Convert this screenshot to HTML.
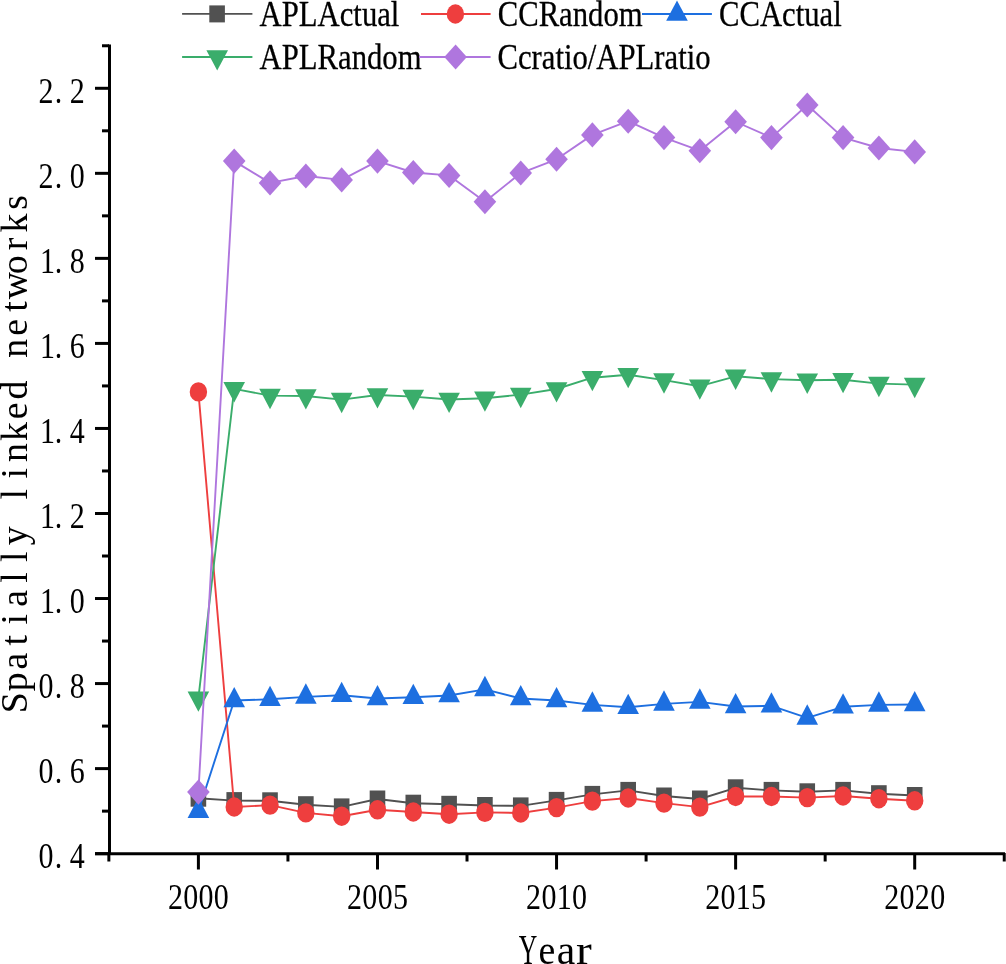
<!DOCTYPE html>
<html><head><meta charset="utf-8"><style>
html,body{margin:0;padding:0;background:#fff;}
body{width:1006px;height:964px;overflow:hidden;}
svg{display:block;}
text{fill:#000;}
svg{will-change:transform;}
</style></head><body>
<svg width="1006" height="964" viewBox="0 0 1006 964">
<rect width="1006" height="964" fill="#fff"/>
<g stroke="#000" stroke-width="3" fill="none">
<line x1="109.5" y1="44.5" x2="109.5" y2="855.1"/>
<line x1="95" y1="853.65" x2="1005" y2="853.65"/>
<line x1="95" y1="853.65" x2="109" y2="853.65"/>
<line x1="102" y1="811.13" x2="109" y2="811.13"/>
<line x1="95" y1="768.61" x2="109" y2="768.61"/>
<line x1="102" y1="726.09" x2="109" y2="726.09"/>
<line x1="95" y1="683.57" x2="109" y2="683.57"/>
<line x1="102" y1="641.05" x2="109" y2="641.05"/>
<line x1="95" y1="598.53" x2="109" y2="598.53"/>
<line x1="102" y1="556.01" x2="109" y2="556.01"/>
<line x1="95" y1="513.49" x2="109" y2="513.49"/>
<line x1="102" y1="470.97" x2="109" y2="470.97"/>
<line x1="95" y1="428.45" x2="109" y2="428.45"/>
<line x1="102" y1="385.93" x2="109" y2="385.93"/>
<line x1="95" y1="343.41" x2="109" y2="343.41"/>
<line x1="102" y1="300.89" x2="109" y2="300.89"/>
<line x1="95" y1="258.37" x2="109" y2="258.37"/>
<line x1="102" y1="215.85" x2="109" y2="215.85"/>
<line x1="95" y1="173.33" x2="109" y2="173.33"/>
<line x1="102" y1="130.81" x2="109" y2="130.81"/>
<line x1="95" y1="88.29" x2="109" y2="88.29"/>
<line x1="102" y1="45.77" x2="109" y2="45.77"/>
<line x1="108.86" y1="853" x2="108.86" y2="861.5"/>
<line x1="198.40" y1="853" x2="198.40" y2="869.5"/>
<line x1="287.94" y1="853" x2="287.94" y2="861.5"/>
<line x1="377.48" y1="853" x2="377.48" y2="869.5"/>
<line x1="467.01" y1="853" x2="467.01" y2="861.5"/>
<line x1="556.55" y1="853" x2="556.55" y2="869.5"/>
<line x1="646.09" y1="853" x2="646.09" y2="861.5"/>
<line x1="735.62" y1="853" x2="735.62" y2="869.5"/>
<line x1="825.16" y1="853" x2="825.16" y2="861.5"/>
<line x1="914.70" y1="853" x2="914.70" y2="869.5"/>
<line x1="1004.24" y1="853" x2="1004.24" y2="861.5"/>
</g>
<polyline points="198.40,798.20 234.22,800.60 270.03,800.80 305.85,804.70 341.66,806.90 377.48,799.00 413.29,803.20 449.11,804.30 484.92,805.50 520.74,805.90 556.55,800.40 592.37,794.40 628.18,790.40 664.00,796.00 699.81,799.00 735.62,787.80 771.44,790.40 807.25,791.80 843.07,790.40 878.88,793.70 914.70,795.50" fill="none" stroke="#515151" stroke-width="1.9" stroke-linejoin="round"/><rect x="190.60" y="789.70" width="15.6" height="17.0" fill="#515151"/><rect x="226.41" y="792.10" width="15.6" height="17.0" fill="#515151"/><rect x="262.23" y="792.30" width="15.6" height="17.0" fill="#515151"/><rect x="298.05" y="796.20" width="15.6" height="17.0" fill="#515151"/><rect x="333.86" y="798.40" width="15.6" height="17.0" fill="#515151"/><rect x="369.68" y="790.50" width="15.6" height="17.0" fill="#515151"/><rect x="405.49" y="794.70" width="15.6" height="17.0" fill="#515151"/><rect x="441.31" y="795.80" width="15.6" height="17.0" fill="#515151"/><rect x="477.12" y="797.00" width="15.6" height="17.0" fill="#515151"/><rect x="512.94" y="797.40" width="15.6" height="17.0" fill="#515151"/><rect x="548.75" y="791.90" width="15.6" height="17.0" fill="#515151"/><rect x="584.57" y="785.90" width="15.6" height="17.0" fill="#515151"/><rect x="620.38" y="781.90" width="15.6" height="17.0" fill="#515151"/><rect x="656.20" y="787.50" width="15.6" height="17.0" fill="#515151"/><rect x="692.01" y="790.50" width="15.6" height="17.0" fill="#515151"/><rect x="727.82" y="779.30" width="15.6" height="17.0" fill="#515151"/><rect x="763.64" y="781.90" width="15.6" height="17.0" fill="#515151"/><rect x="799.46" y="783.30" width="15.6" height="17.0" fill="#515151"/><rect x="835.27" y="781.90" width="15.6" height="17.0" fill="#515151"/><rect x="871.08" y="785.20" width="15.6" height="17.0" fill="#515151"/><rect x="906.90" y="787.00" width="15.6" height="17.0" fill="#515151"/>
<polyline points="198.40,391.90 234.22,807.00 270.03,805.10 305.85,812.90 341.66,816.20 377.48,809.80 413.29,812.00 449.11,814.20 484.92,812.40 520.74,813.00 556.55,807.60 592.37,801.10 628.18,798.00 664.00,803.10 699.81,807.10 735.62,796.50 771.44,796.50 807.25,797.60 843.07,796.00 878.88,798.70 914.70,800.80" fill="none" stroke="#EE3E3E" stroke-width="1.9" stroke-linejoin="round"/><ellipse cx="198.40" cy="391.90" rx="8.7" ry="9.7" fill="#EE3E3E"/><ellipse cx="234.22" cy="807.00" rx="8.7" ry="9.7" fill="#EE3E3E"/><ellipse cx="270.03" cy="805.10" rx="8.7" ry="9.7" fill="#EE3E3E"/><ellipse cx="305.85" cy="812.90" rx="8.7" ry="9.7" fill="#EE3E3E"/><ellipse cx="341.66" cy="816.20" rx="8.7" ry="9.7" fill="#EE3E3E"/><ellipse cx="377.48" cy="809.80" rx="8.7" ry="9.7" fill="#EE3E3E"/><ellipse cx="413.29" cy="812.00" rx="8.7" ry="9.7" fill="#EE3E3E"/><ellipse cx="449.11" cy="814.20" rx="8.7" ry="9.7" fill="#EE3E3E"/><ellipse cx="484.92" cy="812.40" rx="8.7" ry="9.7" fill="#EE3E3E"/><ellipse cx="520.74" cy="813.00" rx="8.7" ry="9.7" fill="#EE3E3E"/><ellipse cx="556.55" cy="807.60" rx="8.7" ry="9.7" fill="#EE3E3E"/><ellipse cx="592.37" cy="801.10" rx="8.7" ry="9.7" fill="#EE3E3E"/><ellipse cx="628.18" cy="798.00" rx="8.7" ry="9.7" fill="#EE3E3E"/><ellipse cx="664.00" cy="803.10" rx="8.7" ry="9.7" fill="#EE3E3E"/><ellipse cx="699.81" cy="807.10" rx="8.7" ry="9.7" fill="#EE3E3E"/><ellipse cx="735.62" cy="796.50" rx="8.7" ry="9.7" fill="#EE3E3E"/><ellipse cx="771.44" cy="796.50" rx="8.7" ry="9.7" fill="#EE3E3E"/><ellipse cx="807.25" cy="797.60" rx="8.7" ry="9.7" fill="#EE3E3E"/><ellipse cx="843.07" cy="796.00" rx="8.7" ry="9.7" fill="#EE3E3E"/><ellipse cx="878.88" cy="798.70" rx="8.7" ry="9.7" fill="#EE3E3E"/><ellipse cx="914.70" cy="800.80" rx="8.7" ry="9.7" fill="#EE3E3E"/>
<polyline points="198.40,811.10 234.22,700.50 270.03,699.30 305.85,696.90 341.66,695.30 377.48,698.50 413.29,697.30 449.11,695.50 484.92,689.40 520.74,698.50 556.55,700.50 592.37,704.90 628.18,707.30 664.00,703.90 699.81,701.90 735.62,706.50 771.44,705.80 807.25,717.90 843.07,706.80 878.88,704.90 914.70,704.50" fill="none" stroke="#1D6FE0" stroke-width="1.9" stroke-linejoin="round"/><polygon points="198.40,797.50 209.20,817.90 187.60,817.90" fill="#1D6FE0"/><polygon points="234.22,686.90 245.02,707.30 223.41,707.30" fill="#1D6FE0"/><polygon points="270.03,685.70 280.83,706.10 259.23,706.10" fill="#1D6FE0"/><polygon points="305.85,683.30 316.65,703.70 295.05,703.70" fill="#1D6FE0"/><polygon points="341.66,681.70 352.46,702.10 330.86,702.10" fill="#1D6FE0"/><polygon points="377.48,684.90 388.28,705.30 366.68,705.30" fill="#1D6FE0"/><polygon points="413.29,683.70 424.09,704.10 402.49,704.10" fill="#1D6FE0"/><polygon points="449.11,681.90 459.91,702.30 438.31,702.30" fill="#1D6FE0"/><polygon points="484.92,675.80 495.72,696.20 474.12,696.20" fill="#1D6FE0"/><polygon points="520.74,684.90 531.53,705.30 509.94,705.30" fill="#1D6FE0"/><polygon points="556.55,686.90 567.35,707.30 545.75,707.30" fill="#1D6FE0"/><polygon points="592.37,691.30 603.16,711.70 581.57,711.70" fill="#1D6FE0"/><polygon points="628.18,693.70 638.98,714.10 617.38,714.10" fill="#1D6FE0"/><polygon points="664.00,690.30 674.79,710.70 653.20,710.70" fill="#1D6FE0"/><polygon points="699.81,688.30 710.61,708.70 689.01,708.70" fill="#1D6FE0"/><polygon points="735.62,692.90 746.42,713.30 724.82,713.30" fill="#1D6FE0"/><polygon points="771.44,692.20 782.24,712.60 760.64,712.60" fill="#1D6FE0"/><polygon points="807.25,704.30 818.05,724.70 796.46,724.70" fill="#1D6FE0"/><polygon points="843.07,693.20 853.87,713.60 832.27,713.60" fill="#1D6FE0"/><polygon points="878.88,691.30 889.68,711.70 868.08,711.70" fill="#1D6FE0"/><polygon points="914.70,690.90 925.50,711.30 903.90,711.30" fill="#1D6FE0"/>
<polyline points="198.40,698.20 234.22,388.90 270.03,395.60 305.85,396.00 341.66,399.60 377.48,395.00 413.29,396.60 449.11,399.50 484.92,398.20 520.74,394.60 556.55,389.00 592.37,377.70 628.18,374.70 664.00,380.10 699.81,386.20 735.62,376.30 771.44,379.10 807.25,380.30 843.07,379.70 878.88,383.60 914.70,384.60" fill="none" stroke="#3AAD6B" stroke-width="1.9" stroke-linejoin="round"/><polygon points="198.40,711.80 209.20,691.40 187.60,691.40" fill="#3AAD6B"/><polygon points="234.22,402.50 245.02,382.10 223.41,382.10" fill="#3AAD6B"/><polygon points="270.03,409.20 280.83,388.80 259.23,388.80" fill="#3AAD6B"/><polygon points="305.85,409.60 316.65,389.20 295.05,389.20" fill="#3AAD6B"/><polygon points="341.66,413.20 352.46,392.80 330.86,392.80" fill="#3AAD6B"/><polygon points="377.48,408.60 388.28,388.20 366.68,388.20" fill="#3AAD6B"/><polygon points="413.29,410.20 424.09,389.80 402.49,389.80" fill="#3AAD6B"/><polygon points="449.11,413.10 459.91,392.70 438.31,392.70" fill="#3AAD6B"/><polygon points="484.92,411.80 495.72,391.40 474.12,391.40" fill="#3AAD6B"/><polygon points="520.74,408.20 531.53,387.80 509.94,387.80" fill="#3AAD6B"/><polygon points="556.55,402.60 567.35,382.20 545.75,382.20" fill="#3AAD6B"/><polygon points="592.37,391.30 603.16,370.90 581.57,370.90" fill="#3AAD6B"/><polygon points="628.18,388.30 638.98,367.90 617.38,367.90" fill="#3AAD6B"/><polygon points="664.00,393.70 674.79,373.30 653.20,373.30" fill="#3AAD6B"/><polygon points="699.81,399.80 710.61,379.40 689.01,379.40" fill="#3AAD6B"/><polygon points="735.62,389.90 746.42,369.50 724.82,369.50" fill="#3AAD6B"/><polygon points="771.44,392.70 782.24,372.30 760.64,372.30" fill="#3AAD6B"/><polygon points="807.25,393.90 818.05,373.50 796.46,373.50" fill="#3AAD6B"/><polygon points="843.07,393.30 853.87,372.90 832.27,372.90" fill="#3AAD6B"/><polygon points="878.88,397.20 889.68,376.80 868.08,376.80" fill="#3AAD6B"/><polygon points="914.70,398.20 925.50,377.80 903.90,377.80" fill="#3AAD6B"/>
<polyline points="198.40,792.10 234.22,161.10 270.03,182.90 305.85,176.00 341.66,179.90 377.48,161.10 413.29,172.50 449.11,175.40 484.92,201.70 520.74,173.05 556.55,159.30 592.37,134.90 628.18,121.20 664.00,137.60 699.81,150.70 735.62,121.75 771.44,137.60 807.25,105.05 843.07,137.60 878.88,148.00 914.70,151.90" fill="none" stroke="#AF76DE" stroke-width="1.9" stroke-linejoin="round"/><polygon points="198.40,779.55 209.70,792.10 198.40,804.65 187.10,792.10" fill="#AF76DE"/><polygon points="234.22,148.55 245.52,161.10 234.22,173.65 222.91,161.10" fill="#AF76DE"/><polygon points="270.03,170.35 281.33,182.90 270.03,195.45 258.73,182.90" fill="#AF76DE"/><polygon points="305.85,163.45 317.15,176.00 305.85,188.55 294.55,176.00" fill="#AF76DE"/><polygon points="341.66,167.35 352.96,179.90 341.66,192.45 330.36,179.90" fill="#AF76DE"/><polygon points="377.48,148.55 388.78,161.10 377.48,173.65 366.18,161.10" fill="#AF76DE"/><polygon points="413.29,159.95 424.59,172.50 413.29,185.05 401.99,172.50" fill="#AF76DE"/><polygon points="449.11,162.85 460.41,175.40 449.11,187.95 437.81,175.40" fill="#AF76DE"/><polygon points="484.92,189.15 496.22,201.70 484.92,214.25 473.62,201.70" fill="#AF76DE"/><polygon points="520.74,160.50 532.03,173.05 520.74,185.60 509.44,173.05" fill="#AF76DE"/><polygon points="556.55,146.75 567.85,159.30 556.55,171.85 545.25,159.30" fill="#AF76DE"/><polygon points="592.37,122.35 603.66,134.90 592.37,147.45 581.07,134.90" fill="#AF76DE"/><polygon points="628.18,108.65 639.48,121.20 628.18,133.75 616.88,121.20" fill="#AF76DE"/><polygon points="664.00,125.05 675.29,137.60 664.00,150.15 652.70,137.60" fill="#AF76DE"/><polygon points="699.81,138.15 711.11,150.70 699.81,163.25 688.51,150.70" fill="#AF76DE"/><polygon points="735.62,109.20 746.92,121.75 735.62,134.30 724.32,121.75" fill="#AF76DE"/><polygon points="771.44,125.05 782.74,137.60 771.44,150.15 760.14,137.60" fill="#AF76DE"/><polygon points="807.25,92.50 818.55,105.05 807.25,117.60 795.96,105.05" fill="#AF76DE"/><polygon points="843.07,125.05 854.37,137.60 843.07,150.15 831.77,137.60" fill="#AF76DE"/><polygon points="878.88,135.45 890.18,148.00 878.88,160.55 867.58,148.00" fill="#AF76DE"/><polygon points="914.70,139.35 926.00,151.90 914.70,164.45 903.40,151.90" fill="#AF76DE"/>
<g style='font-family:"Liberation Serif",serif'><text transform="translate(46.00,868.35) scale(1,1.17)" text-anchor="middle" font-size="30">0</text><text transform="translate(58.40,868.35) scale(1,1.17)" text-anchor="middle" font-size="30">.</text><text transform="translate(77.30,868.35) scale(1,1.17)" text-anchor="middle" font-size="30">4</text></g>
<g style='font-family:"Liberation Serif",serif'><text transform="translate(46.00,783.31) scale(1,1.17)" text-anchor="middle" font-size="30">0</text><text transform="translate(58.40,783.31) scale(1,1.17)" text-anchor="middle" font-size="30">.</text><text transform="translate(77.30,783.31) scale(1,1.17)" text-anchor="middle" font-size="30">6</text></g>
<g style='font-family:"Liberation Serif",serif'><text transform="translate(46.00,698.27) scale(1,1.17)" text-anchor="middle" font-size="30">0</text><text transform="translate(58.40,698.27) scale(1,1.17)" text-anchor="middle" font-size="30">.</text><text transform="translate(77.30,698.27) scale(1,1.17)" text-anchor="middle" font-size="30">8</text></g>
<g style='font-family:"Liberation Serif",serif'><text transform="translate(47.50,613.23) scale(1,1.17)" text-anchor="middle" font-size="30">1</text><text transform="translate(58.40,613.23) scale(1,1.17)" text-anchor="middle" font-size="30">.</text><text transform="translate(77.30,613.23) scale(1,1.17)" text-anchor="middle" font-size="30">0</text></g>
<g style='font-family:"Liberation Serif",serif'><text transform="translate(47.50,528.19) scale(1,1.17)" text-anchor="middle" font-size="30">1</text><text transform="translate(58.40,528.19) scale(1,1.17)" text-anchor="middle" font-size="30">.</text><text transform="translate(77.30,528.19) scale(1,1.17)" text-anchor="middle" font-size="30">2</text></g>
<g style='font-family:"Liberation Serif",serif'><text transform="translate(47.50,443.15) scale(1,1.17)" text-anchor="middle" font-size="30">1</text><text transform="translate(58.40,443.15) scale(1,1.17)" text-anchor="middle" font-size="30">.</text><text transform="translate(77.30,443.15) scale(1,1.17)" text-anchor="middle" font-size="30">4</text></g>
<g style='font-family:"Liberation Serif",serif'><text transform="translate(47.50,358.11) scale(1,1.17)" text-anchor="middle" font-size="30">1</text><text transform="translate(58.40,358.11) scale(1,1.17)" text-anchor="middle" font-size="30">.</text><text transform="translate(77.30,358.11) scale(1,1.17)" text-anchor="middle" font-size="30">6</text></g>
<g style='font-family:"Liberation Serif",serif'><text transform="translate(47.50,273.07) scale(1,1.17)" text-anchor="middle" font-size="30">1</text><text transform="translate(58.40,273.07) scale(1,1.17)" text-anchor="middle" font-size="30">.</text><text transform="translate(77.30,273.07) scale(1,1.17)" text-anchor="middle" font-size="30">8</text></g>
<g style='font-family:"Liberation Serif",serif'><text transform="translate(46.00,188.03) scale(1,1.17)" text-anchor="middle" font-size="30">2</text><text transform="translate(58.40,188.03) scale(1,1.17)" text-anchor="middle" font-size="30">.</text><text transform="translate(77.30,188.03) scale(1,1.17)" text-anchor="middle" font-size="30">0</text></g>
<g style='font-family:"Liberation Serif",serif'><text transform="translate(46.00,102.99) scale(1,1.17)" text-anchor="middle" font-size="30">2</text><text transform="translate(58.40,102.99) scale(1,1.17)" text-anchor="middle" font-size="30">.</text><text transform="translate(77.30,102.99) scale(1,1.17)" text-anchor="middle" font-size="30">2</text></g>
<g style='font-family:"Liberation Serif",serif'><text transform="translate(175.45,909.30) scale(1,1.17)" text-anchor="middle" font-size="30">2</text><text transform="translate(190.75,909.30) scale(1,1.17)" text-anchor="middle" font-size="30">0</text><text transform="translate(206.05,909.30) scale(1,1.17)" text-anchor="middle" font-size="30">0</text><text transform="translate(221.35,909.30) scale(1,1.17)" text-anchor="middle" font-size="30">0</text></g>
<g style='font-family:"Liberation Serif",serif'><text transform="translate(354.53,909.30) scale(1,1.17)" text-anchor="middle" font-size="30">2</text><text transform="translate(369.83,909.30) scale(1,1.17)" text-anchor="middle" font-size="30">0</text><text transform="translate(385.12,909.30) scale(1,1.17)" text-anchor="middle" font-size="30">0</text><text transform="translate(400.43,909.30) scale(1,1.17)" text-anchor="middle" font-size="30">5</text></g>
<g style='font-family:"Liberation Serif",serif'><text transform="translate(533.60,909.30) scale(1,1.17)" text-anchor="middle" font-size="30">2</text><text transform="translate(548.90,909.30) scale(1,1.17)" text-anchor="middle" font-size="30">0</text><text transform="translate(564.20,909.30) scale(1,1.17)" text-anchor="middle" font-size="30">1</text><text transform="translate(579.50,909.30) scale(1,1.17)" text-anchor="middle" font-size="30">0</text></g>
<g style='font-family:"Liberation Serif",serif'><text transform="translate(712.67,909.30) scale(1,1.17)" text-anchor="middle" font-size="30">2</text><text transform="translate(727.97,909.30) scale(1,1.17)" text-anchor="middle" font-size="30">0</text><text transform="translate(743.27,909.30) scale(1,1.17)" text-anchor="middle" font-size="30">1</text><text transform="translate(758.57,909.30) scale(1,1.17)" text-anchor="middle" font-size="30">5</text></g>
<g style='font-family:"Liberation Serif",serif'><text transform="translate(891.75,909.30) scale(1,1.17)" text-anchor="middle" font-size="30">2</text><text transform="translate(907.05,909.30) scale(1,1.17)" text-anchor="middle" font-size="30">0</text><text transform="translate(922.35,909.30) scale(1,1.17)" text-anchor="middle" font-size="30">2</text><text transform="translate(937.65,909.30) scale(1,1.17)" text-anchor="middle" font-size="30">0</text></g>
<g style='font-family:"Liberation Serif",serif'><text transform="translate(527.90,963.6) scale(0.68,1.1)" text-anchor="middle" font-size="37.8">Y</text><text transform="translate(546.90,963.6) scale(1.0,1.1)" text-anchor="middle" font-size="37.8">e</text><text transform="translate(566.00,963.6) scale(1.1,1.1)" text-anchor="middle" font-size="37.8">a</text><text transform="translate(583.80,963.6) scale(1.25,1.1)" text-anchor="middle" font-size="37.8">r</text></g>
<g transform="translate(26.5,702.7) rotate(-90)" style='font-family:"Liberation Serif",serif'><text x="0.00" y="0" text-anchor="middle" font-size="37.8">S</text><text x="20.85" y="0" text-anchor="middle" font-size="37.8">p</text><text x="41.70" y="0" text-anchor="middle" font-size="37.8">a</text><text x="62.55" y="0" text-anchor="middle" font-size="37.8">t</text><text x="83.40" y="0" text-anchor="middle" font-size="37.8">i</text><text x="104.25" y="0" text-anchor="middle" font-size="37.8">a</text><text x="125.10" y="0" text-anchor="middle" font-size="37.8">l</text><text x="145.95" y="0" text-anchor="middle" font-size="37.8">l</text><text x="166.80" y="0" text-anchor="middle" font-size="37.8">y</text><text x="208.50" y="0" text-anchor="middle" font-size="37.8">l</text><text x="229.35" y="0" text-anchor="middle" font-size="37.8">i</text><text x="250.20" y="0" text-anchor="middle" font-size="37.8">n</text><text x="271.05" y="0" text-anchor="middle" font-size="37.8">k</text><text x="291.90" y="0" text-anchor="middle" font-size="37.8">e</text><text x="312.75" y="0" text-anchor="middle" font-size="37.8">d</text><text x="354.45" y="0" text-anchor="middle" font-size="37.8">n</text><text x="375.30" y="0" text-anchor="middle" font-size="37.8">e</text><text x="396.15" y="0" text-anchor="middle" font-size="37.8">t</text><text x="417.00" y="0" text-anchor="middle" font-size="37.8">w</text><text x="437.85" y="0" text-anchor="middle" font-size="37.8">o</text><text x="458.70" y="0" text-anchor="middle" font-size="37.8">r</text><text x="479.55" y="0" text-anchor="middle" font-size="37.8">k</text><text x="500.40" y="0" text-anchor="middle" font-size="37.8">s</text></g>
<line x1="182.1" y1="13.9" x2="252.4" y2="13.9" stroke="#515151" stroke-width="1.9"/><rect x="209.30" y="5.40" width="15.6" height="17.0" fill="#515151"/><text transform="translate(259.6,26.0) scale(1,1.14)" font-size="30.7" style='font-family:"Liberation Serif",serif' stroke="#000" stroke-width="0.25">APLActual</text>
<line x1="421.0" y1="14.0" x2="490.6" y2="14.0" stroke="#EE3E3E" stroke-width="1.9"/><ellipse cx="455.40" cy="14.00" rx="8.7" ry="9.7" fill="#EE3E3E"/><text transform="translate(497.7,26.0) scale(1,1.14)" font-size="30.7" style='font-family:"Liberation Serif",serif' stroke="#000" stroke-width="0.25">CCRandom</text>
<line x1="642.0" y1="14.0" x2="711.9" y2="14.0" stroke="#1D6FE0" stroke-width="1.9"/><polygon points="677.00,0.40 687.80,20.80 666.20,20.80" fill="#1D6FE0"/><text transform="translate(719.0,26.0) scale(1,1.14)" font-size="30.7" style='font-family:"Liberation Serif",serif' stroke="#000" stroke-width="0.25">CCActual</text>
<line x1="182.1" y1="57.0" x2="252.4" y2="57.0" stroke="#3AAD6B" stroke-width="1.9"/><polygon points="217.20,70.60 228.00,50.20 206.40,50.20" fill="#3AAD6B"/><text transform="translate(259.6,68.8) scale(1,1.14)" font-size="30.7" style='font-family:"Liberation Serif",serif' stroke="#000" stroke-width="0.25">APLRandom</text>
<line x1="419.0" y1="57.0" x2="490.6" y2="57.0" stroke="#AF76DE" stroke-width="1.9"/><polygon points="455.60,44.45 466.90,57.00 455.60,69.55 444.30,57.00" fill="#AF76DE"/><text transform="translate(497.5,68.8) scale(1,1.14)" font-size="30.7" style='font-family:"Liberation Serif",serif' stroke="#000" stroke-width="0.25">Ccratio/APLratio</text>
</svg>
</body></html>
